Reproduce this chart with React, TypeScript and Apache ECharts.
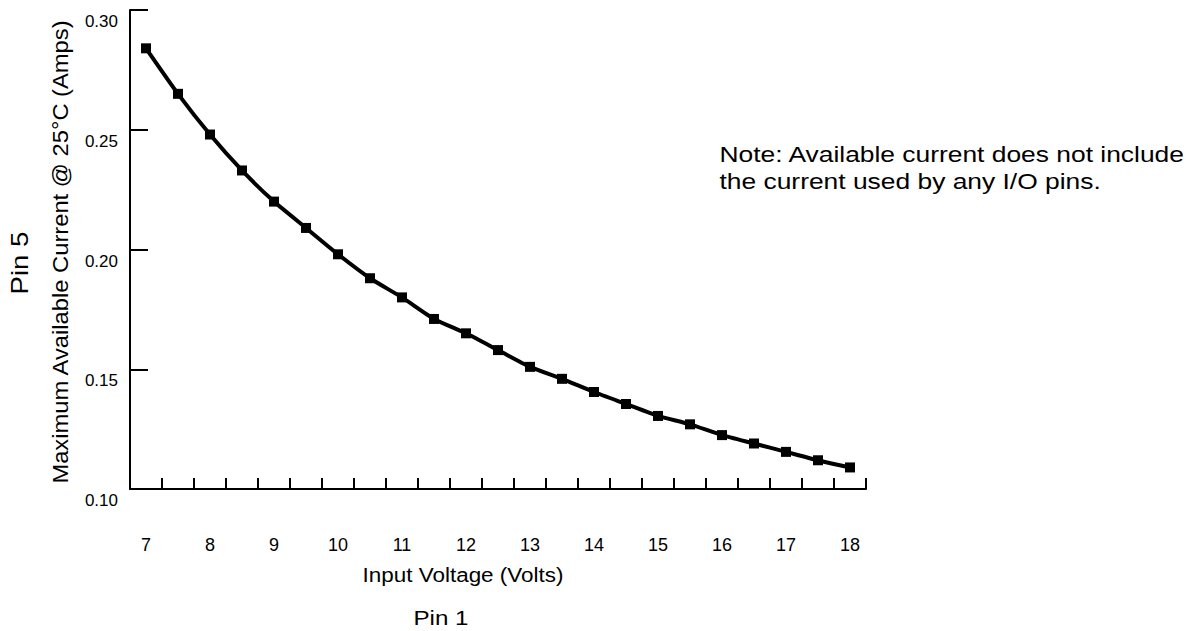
import React, { useEffect, useRef } from "react";
import * as echarts from "echarts";

const voltages = ["7","7.5","8","8.5","9","9.5","10","10.5","11","11.5","12","12.5","13","13.5","14","14.5","15","15.5","16","16.5","17","17.5","18"];
const currents = [0.284,0.265,0.248,0.233,0.220,0.209,0.198,0.188,0.180,0.171,0.165,0.158,0.151,0.146,0.1405,0.1355,0.1305,0.127,0.1225,0.119,0.1155,0.112,0.109];
const yTitle = "Maximum Available Current @ 25°C (Amps)";
const xTitle = "Input Voltage (Volts)";
const noteLines = ["Note: Available current does not include", "the current used by any I/O pins."];

const FONT = "'Liberation Sans', Arial, sans-serif";

export default function App() {
  const ref = useRef<HTMLDivElement>(null);
  useEffect(() => {
    if (!ref.current) return;
    const chart = echarts.init(ref.current, undefined, { renderer: "svg" });
    chart.setOption({
      animation: false,
      backgroundColor: "#ffffff",
      grid: { left: 130, right: 329, top: 10, bottom: 142 },
      xAxis: {
        type: "category",
        data: voltages,
        boundaryGap: true,
        axisLine: { lineStyle: { color: "#000", width: 2 } },
        axisTick: { show: true, inside: true, length: 11, interval: 0, lineStyle: { color: "#000", width: 2 } },
        axisLabel: { interval: 1, margin: 47, fontFamily: FONT, fontSize: 18, color: "#000" },
        splitLine: { show: false },
      },
      yAxis: {
        type: "value",
        min: 0.1,
        max: 0.3,
        interval: 0.05,
        axisLine: { show: true, lineStyle: { color: "#000", width: 2 } },
        axisTick: { show: true, inside: true, length: 18, lineStyle: { color: "#000", width: 2 } },
        axisLabel: {
          margin: 12,
          fontFamily: FONT,
          fontSize: 17,
          color: "#000",
          verticalAlign: "top",
          padding: [3, 0, 0, 0],
          formatter: (v: number) => v.toFixed(2),
        },
        splitLine: { show: false },
      },
      series: [
        {
          type: "line",
          data: currents,
          symbol: "rect",
          symbolSize: 10,
          smooth: 0.2,
          lineStyle: { color: "#000", width: 4 },
          itemStyle: { color: "#000" },
        },
      ],
      graphic: [
        {
          type: "text",
          x: 60,
          y: 252,
          rotation: Math.PI / 2,
          scaleX: 1.08,
          style: { text: yTitle, font: `22px ${FONT}`, fill: "#000", textAlign: "center", textVerticalAlign: "middle" },
        },
        {
          type: "text",
          x: 20,
          y: 263,
          rotation: Math.PI / 2,
          scaleX: 1.2,
          style: { text: "Pin 5", font: `23px ${FONT}`, fill: "#000", textAlign: "center", textVerticalAlign: "middle" },
        },
        {
          type: "text",
          x: 463,
          y: 575,
          scaleX: 1.07,
          style: { text: xTitle, font: `21px ${FONT}`, fill: "#000", textAlign: "center", textVerticalAlign: "middle" },
        },
        {
          type: "text",
          x: 441,
          y: 618,
          scaleX: 1.15,
          style: { text: "Pin 1", font: `21px ${FONT}`, fill: "#000", textAlign: "center", textVerticalAlign: "middle" },
        },
        {
          type: "text",
          x: 719.5,
          y: 154,
          scaleX: 1.2,
          style: { text: noteLines[0], font: `22px ${FONT}`, fill: "#000", textAlign: "left", textVerticalAlign: "middle" },
        },
        {
          type: "text",
          x: 719.5,
          y: 181,
          scaleX: 1.2,
          style: { text: noteLines[1], font: `22px ${FONT}`, fill: "#000", textAlign: "left", textVerticalAlign: "middle" },
        },
      ],
    });
    return () => chart.dispose();
  }, []);
  return <div ref={ref} style={{ width: 1195, height: 631, position: "absolute", left: 0, top: 0 }} />;
}
